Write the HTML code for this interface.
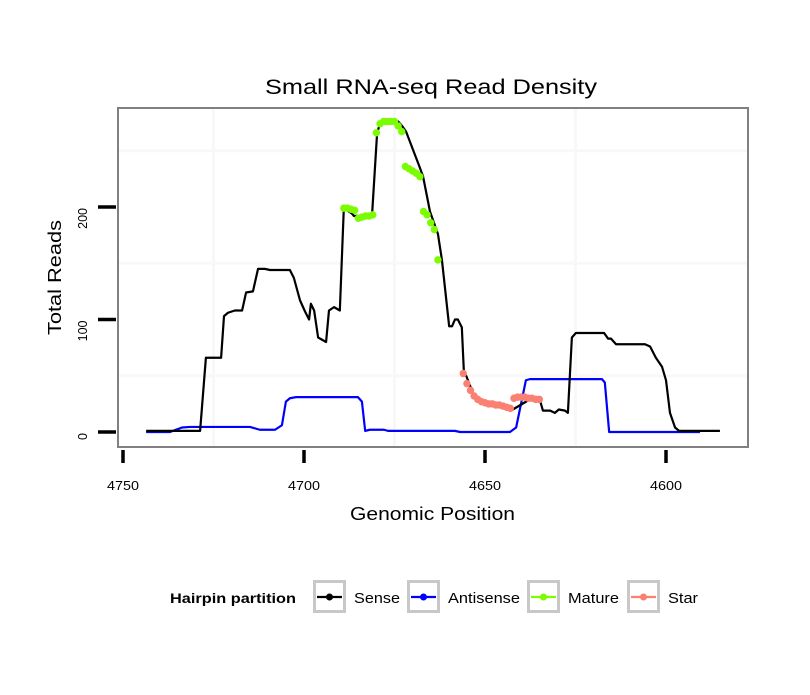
<!DOCTYPE html>
<html><head><meta charset="utf-8"><style>
body{margin:0;background:#fff;}
svg text{font-family:"Liberation Sans",sans-serif;}
</style></head><body>
<svg id="chart" width="810" height="690" xmlns="http://www.w3.org/2000/svg">
<rect width="810" height="690" fill="#fff"/>
<text x="265" y="94" font-size="21" textLength="332" lengthAdjust="spacingAndGlyphs">Small RNA-seq Read Density</text>
<g id="grid"></g>
<g id="series"></g>
<rect x="118" y="108" width="630" height="339" fill="none" stroke="#808080" stroke-width="2"/>
<g id="axes"></g>
<text x="350" y="520" font-size="18" textLength="165" lengthAdjust="spacingAndGlyphs">Genomic Position</text>
<text transform="translate(61,335) rotate(-90)" font-size="18" textLength="115" lengthAdjust="spacingAndGlyphs">Total Reads</text>
<g id="legend">
<text x="170" y="603" font-size="14" font-weight="bold" textLength="126" lengthAdjust="spacingAndGlyphs">Hairpin partition</text>
</g>
</svg>
<script>
const senseX=[4743.6,4728.7,4727.1,4722.9,4722.1,4721.0,4719.1,4717.1,4716.0,4714.1,4712.7,4710.8,4709.4,4703.9,4702.8,4701.1,4699.7,4698.6,4698.1,4697.2,4696.1,4693.9,4693.1,4691.7,4690.1,4689.0,4686.7,4686.2,4681.2,4679.8,4679.0,4674.9,4674.0,4672.9,4671.8,4668.0,4667.1,4665.2,4664.1,4663.0,4661.9,4659.9,4659.1,4658.3,4657.5,4656.4,4655.8,4655.2,4654.1,4653.3,4651.4,4648.6,4645.9,4643.6,4642.5,4642.3,4637.6,4634.8,4634.0,4632.0,4630.7,4629.6,4627.9,4627.1,4626.0,4624.9,4617.1,4616.0,4615.2,4613.8,4605.8,4604.4,4602.8,4601.1,4600.0,4598.9,4597.5,4596.4,4590.6,4585.1];
const senseY=[1,1,66,66,103,106,108,108,124,125,145,145,144,144,137,117,107,100,114,108,84,80,108,111,108,199,194,192,193,266,274,276,276,272,267,235,227,196,186,176,153,94,94,100,100,93,51,50,41,34,28,25,23,22,21,20,29,28,19,19,17,20,19,17,84,88,88,83,83,78,78,76,66,58,46,17,4,1,1,1];
const antiX=[4743.6,4737.0,4735.4,4733.7,4731.5,4714.9,4713.3,4712.2,4708.0,4706.1,4705.0,4703.9,4702.2,4685.1,4684.0,4683.1,4681.8,4677.9,4676.8,4658.3,4656.9,4643.1,4641.4,4638.7,4637.6,4617.7,4616.9,4615.7,4600.3,4598.9,4590.6];
const antiY=[0,0,2,4,4.5,4.5,3,2,2,6,27,30,31,31,27,1,2,2,1,1,0,0,4,46,47,47,44,0,0,0,0];
const matureX=[4689,4688,4687,4686,4685,4684,4683,4682,4681,4680,4679,4678,4677,4676,4675,4674,4673,4672,4671,4670,4669,4668,4667,4666,4665,4664,4663];
const matureY=[199,199,198,197,190,191,192,192,193,266,274,276,276,276,276,272,267,236,234,232,230,227,196,193,186,180,153];
const starX=[4656,4655,4654,4653,4652,4651,4650,4649,4648,4647,4646,4645,4644,4643,4642,4641,4640,4639,4638,4637,4636,4635];
const starY=[52,43,37,32,29,27,26,25,25,24,24,23,22,21,30,31,31,31,30,30,29,29];
const xTicks=[4750,4700,4650,4600];
const yTicks=[0,100,200];
const xGrid=[4725,4675,4625];
const yGrid=[50,150,250];
const legendLabels=["Sense","Antisense","Mature","Star"];
const legendColors=["#000000","#0000ff","#7cfc00","#fa8072"];

const NS="http://www.w3.org/2000/svg";
const xs=v=>123+(4750-v)*3.62;
const ys=v=>432-1.125*v;
function mk(tag,attrs,parent){const e=document.createElementNS(NS,tag);for(const k in attrs)e.setAttribute(k,attrs[k]);parent.appendChild(e);return e;}
const grid=document.getElementById('grid'),series=document.getElementById('series'),axes=document.getElementById('axes'),legend=document.getElementById('legend');
xGrid.forEach(v=>{const l=mk('line',{x1:xs(v),x2:xs(v),y1:109,y2:446,stroke:'#f8f8f8','stroke-width':3},grid);

});
yGrid.forEach(v=>{const l=mk('line',{x1:119,x2:747,y1:ys(v),y2:ys(v),stroke:'#f8f8f8','stroke-width':3},grid);

});
function line(X,Y,color,name){const p=mk('polyline',{points:X.map((x,i)=>xs(x)+','+ys(Y[i])).join(' '),fill:'none',stroke:color,'stroke-width':2.2,'stroke-linejoin':'round'},series);

}
line(antiX,antiY,'#0000ff','antisense-line');
line(senseX,senseY,'#000000','sense-line');
function dots(X,Y,color,name){X.forEach((x,i)=>{const c=mk('circle',{cx:xs(x),cy:ys(Y[i]),r:3.7,fill:color},series);

});}
dots(matureX,matureY,'#7cfc00','mature-point');
dots(starX,starY,'#fa8072','star-point');
xTicks.forEach(v=>{const t=mk('line',{x1:xs(v),x2:xs(v),y1:450,y2:463,stroke:'#000','stroke-width':3.5},axes);


const tx=mk('text',{x:xs(v),y:490,'font-size':12.5,'text-anchor':'middle',textLength:32,lengthAdjust:'spacingAndGlyphs'},axes);tx.textContent=v;

});
yTicks.forEach(v=>{const t=mk('line',{x1:98,x2:116,y1:ys(v),y2:ys(v),stroke:'#000','stroke-width':3.5},axes);


const tx=mk('text',{transform:'translate(87,'+(ys(v)+1)+') rotate(-90)','font-size':12.5,'text-anchor':'end'},axes);tx.textContent=v;

});
const boxX=[313,407,527,627];
const textX=[354,448,568,668];
const textW=[46,72,51,30];
legendLabels.forEach((lab,i)=>{const g=mk('g',{},legend);


const bx=boxX[i];
mk('rect',{x:bx+1.5,y:581.5,width:30,height:30,fill:'#fff',stroke:'#c8c8c8','stroke-width':3},g);
mk('line',{x1:bx+4,x2:bx+29,y1:597,y2:597,stroke:legendColors[i],'stroke-width':2.2},g);
mk('circle',{cx:bx+16.5,cy:597,r:3.5,fill:legendColors[i]},g);
const t=mk('text',{x:textX[i],y:603,'font-size':15,textLength:textW[i],lengthAdjust:'spacingAndGlyphs'},g);t.textContent=lab;});
</script>
</body></html>
